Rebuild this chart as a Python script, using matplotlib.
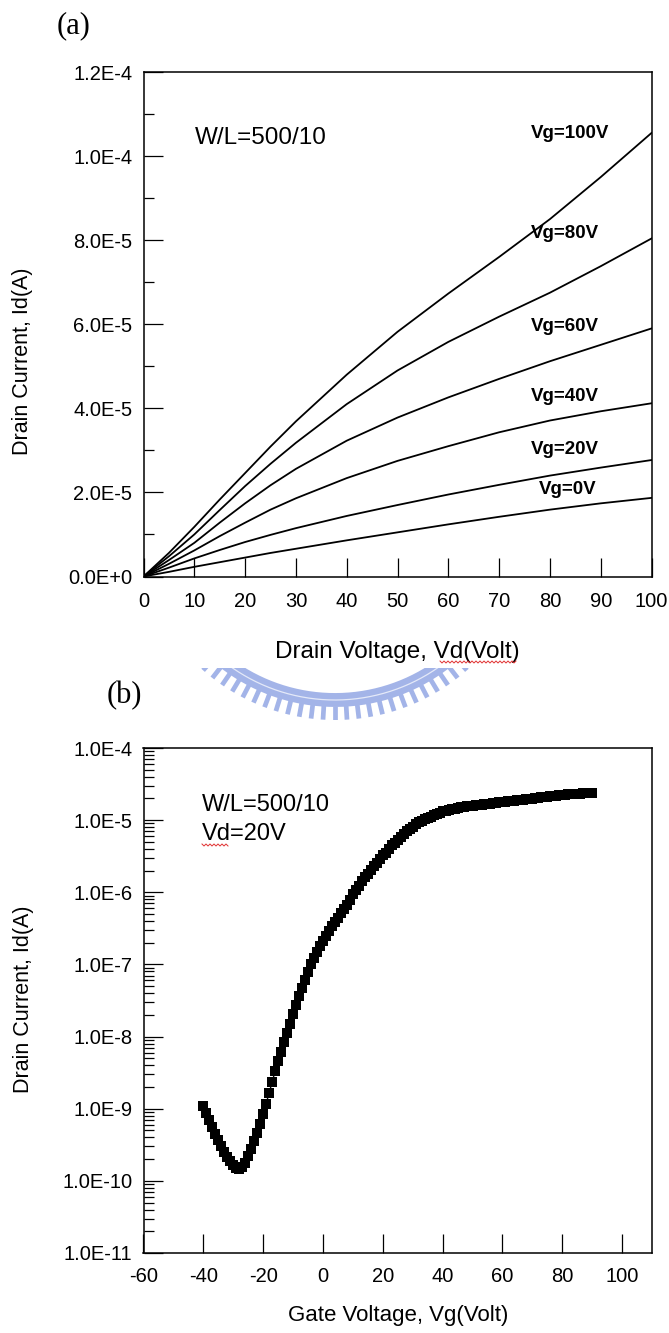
import numpy as np
import matplotlib.pyplot as plt
from matplotlib.ticker import FixedLocator, FixedFormatter, LogLocator, NullFormatter

plt.rcParams['font.family'] = ['Liberation Sans', 'DejaVu Sans']

## (a) output curves, Id in uA
vd = [0, 5, 10, 15, 20, 25, 30, 40, 50, 60, 70, 80, 90, 100]
id_vg0 = [0, 1.1, 2.3, 3.4, 4.5, 5.6, 6.6, 8.6, 10.5, 12.4, 14.2, 15.9, 17.4, 18.7]
id_vg20 = [0, 2.1, 4.3, 6.3, 8.2, 9.9, 11.5, 14.4, 17.0, 19.5, 21.8, 24.0, 25.9, 27.7]
id_vg40 = [0, 3.0, 6.2, 9.6, 12.8, 15.9, 18.6, 23.4, 27.5, 31.0, 34.3, 37.1, 39.3, 41.2]
id_vg60 = [0, 3.9, 8.0, 12.8, 17.4, 21.7, 25.6, 32.3, 37.8, 42.6, 47.0, 51.2, 55.1, 59.0]
id_vg80 = [0, 4.8, 10.0, 15.8, 21.5, 26.8, 31.8, 41.0, 49.0, 55.8, 61.8, 67.5, 73.8, 80.4]
id_vg100 = [0, 5.6, 11.8, 18.3, 24.6, 30.9, 36.9, 48.0, 58.2, 67.3, 76.0, 85.0, 95.0, 105.5]
curves = [id_vg0, id_vg20, id_vg40, id_vg60, id_vg80, id_vg100]
curve_labels = ['Vg=0V', 'Vg=20V', 'Vg=40V', 'Vg=60V', 'Vg=80V', 'Vg=100V']
label_y = [20.6, 30.1, 42.7, 59.4, 81.6, 105.4]   # uA, where the tags sit
label_x = [83.5, 83, 83, 83, 83, 84]

a_yticks = [0, 2e-5, 4e-5, 6e-5, 8e-5, 1e-4, 1.2e-4]
a_yticklabels = ['0.0E+0', '2.0E-5', '4.0E-5', '6.0E-5', '8.0E-5', '1.0E-4', '1.2E-4']
a_xticks = [0, 10, 20, 30, 40, 50, 60, 70, 80, 90, 100]

## (b) transfer curve, log10(Id) at Vd=20V, one point per volt from -40 to 90
vg = list(range(-40, 91))
log_id = [-8.96, -9.06, -9.16, -9.26, -9.35, -9.44, -9.52, -9.60, -9.67, -9.73,
          -9.78, -9.82, -9.83, -9.81, -9.75, -9.66, -9.56, -9.45, -9.33, -9.21,
          -9.07, -8.93, -8.78, -8.63, -8.48, -8.34, -8.21, -8.08, -7.95, -7.82,
          -7.69, -7.56, -7.44, -7.32, -7.21, -7.10, -7.00, -6.91, -6.83, -6.75,
          -6.68, -6.60, -6.53, -6.47, -6.41, -6.35, -6.29, -6.23, -6.17, -6.10,
          -6.03, -5.97, -5.91, -5.85, -5.79, -5.74, -5.69, -5.64, -5.59, -5.54,
          -5.49, -5.45, -5.40, -5.35, -5.31, -5.27, -5.23, -5.19, -5.15, -5.12,
          -5.09, -5.06, -5.03, -5.01, -4.99, -4.97, -4.95, -4.93, -4.91, -4.90,
          -4.88, -4.87, -4.86, -4.85, -4.84, -4.83, -4.82, -4.815, -4.81, -4.805,
          -4.80, -4.795, -4.79, -4.785, -4.78, -4.775, -4.77, -4.765, -4.76, -4.755,
          -4.75, -4.745, -4.74, -4.735, -4.73, -4.725, -4.72, -4.715, -4.71, -4.705,
          -4.70, -4.695, -4.69, -4.685, -4.68, -4.675, -4.67, -4.665, -4.66, -4.655,
          -4.65, -4.647, -4.644, -4.641, -4.638, -4.635, -4.632, -4.629, -4.626, -4.623,
          -4.62]
b_yticks = [1e-11, 1e-10, 1e-9, 1e-8, 1e-7, 1e-6, 1e-5, 1e-4]
b_yticklabels = ['1.0E-11', '1.0E-10', '1.0E-9', '1.0E-8', '1.0E-7', '1.0E-6', '1.0E-5', '1.0E-4']
b_xticks = [-60, -40, -20, 0, 20, 40, 60, 80, 100]

W, H = 669, 1333
fig = plt.figure(figsize=(W / 100, H / 100), dpi=100)

def px_axes(x0, y0, x1, y1):
    return fig.add_axes([x0 / W, 1 - y1 / H, (x1 - x0) / W, (y1 - y0) / H])

tick_fs = 14.5

## watermark strip between the panels
wm = px_axes(150, 668, 520, 720)
wm.set_xlim(150, 520)
wm.set_ylim(720, 668)
wm.axis('off')
cx, cy = 335, 520
blue = '#a3b4e8'
phi = np.linspace(-0.95, 0.95, 200)
wm.plot(cx + 180 * np.sin(phi), cy + 180 * np.cos(phi), color=blue, lw=10, solid_capstyle='butt')
wm.plot(cx + 180 * np.sin(phi), cy + 180 * np.cos(phi), color='#e4e9f8', lw=0.9)
for p in np.arange(-0.72, 0.73, 0.06):
    wm.plot([cx + 186 * np.sin(p), cx + 200 * np.sin(p)],
            [cy + 186 * np.cos(p), cy + 200 * np.cos(p)],
            color=blue, lw=3.4, solid_capstyle='butt')

## panel (a)
ax1 = px_axes(143.5, 72, 651.5, 576.5)
for c in curves:
    ax1.plot(vd, np.array(c) * 1e-6, color='black', lw=1.3)
for t, x, y in zip(curve_labels, label_x, label_y):
    ax1.text(x, y * 1e-6, t, ha='center', va='center', fontsize=13.5, fontweight='bold')
ax1.text(0.101, 0.870, 'W/L=500/10', transform=ax1.transAxes, fontsize=17.5, va='center')
ax1.set_xlim(0, 100)
ax1.set_ylim(0, 1.2e-4)
ax1.yaxis.set_major_locator(FixedLocator(a_yticks))
ax1.yaxis.set_major_formatter(FixedFormatter(a_yticklabels))
ax1.yaxis.set_minor_locator(FixedLocator([1e-5, 3e-5, 5e-5, 7e-5, 9e-5, 1.1e-4]))
ax1.xaxis.set_major_locator(FixedLocator(a_xticks))
ax1.xaxis.set_major_formatter(FixedFormatter([str(v) for v in a_xticks]))
ax1.tick_params(direction='in', length=14, width=0.9, labelsize=tick_fs, pad=8)
ax1.tick_params(axis='y', which='minor', direction='in', length=7, width=0.9)
ax1.tick_params(axis='x', pad=11)
ax1.set_xlabel('Drain Voltage, Vd(Volt)', fontsize=17.5, labelpad=22)
for s in ax1.spines.values():
    s.set_linewidth(1.1)

## panel (b)
ax2 = px_axes(143.5, 748, 652, 1253)
ax2.semilogy(vg, 10 ** np.array(log_id), '-s', color='black', lw=1, ms=6.5, mew=0)
ax2.set_xlim(-60, 110)
ax2.set_ylim(1e-11, 1e-4)
ax2.yaxis.set_major_locator(FixedLocator(b_yticks))
ax2.yaxis.set_major_formatter(FixedFormatter(b_yticklabels))
ax2.yaxis.set_minor_locator(LogLocator(base=10, subs=np.arange(2, 10), numticks=20))
ax2.yaxis.set_minor_formatter(NullFormatter())
ax2.xaxis.set_major_locator(FixedLocator(b_xticks))
ax2.xaxis.set_major_formatter(FixedFormatter([str(v) for v in b_xticks]))
ax2.tick_params(direction='in', length=14, width=0.9, labelsize=tick_fs, pad=8)
ax2.tick_params(axis='y', which='minor', direction='in', length=7, width=0.9)
ax2.tick_params(axis='x', pad=10)
ax2.text(0.115, 0.887, 'W/L=500/10', transform=ax2.transAxes, fontsize=17, va='center')
ax2.text(0.115, 0.830, 'Vd=20V', transform=ax2.transAxes, fontsize=17, va='center')
ax2.set_xlabel('Gate Voltage, Vg(Volt)', fontsize=16, labelpad=14)
for s in ax2.spines.values():
    s.set_linewidth(1.1)

## spell-check squiggles under "Vd"
sq = fig.add_axes([0, 0, 1, 1])
sq.set_xlim(0, W)
sq.set_ylim(H, 0)
sq.axis('off')
sq.set_zorder(5)
for x0, x1, y0 in [(440, 517, 662), (202, 228, 845)]:
    xs = np.arange(x0, x1 + 1, 2)
    sq.plot(xs, y0 + np.where(np.arange(len(xs)) % 2 == 0, -1, 1), color='#e03030', lw=0.7)

## y labels and panel tags
fig.text(23 / W, 1 - 361 / H, 'Drain Current, Id(A)', rotation=90, fontsize=15.5,
         ha='center', va='center')
fig.text(24 / W, 1 - 999 / H, 'Drain Current, Id(A)', rotation=90, fontsize=15.5,
         ha='center', va='center')
fig.text(74 / W, 1 - 26 / H, '(a)', family='Liberation Serif', fontsize=22, ha='center', va='center')
fig.text(124 / W, 1 - 696 / H, '(b)', family='Liberation Serif', fontsize=22, ha='center', va='center')

fig.savefig('out.png', dpi=100)
